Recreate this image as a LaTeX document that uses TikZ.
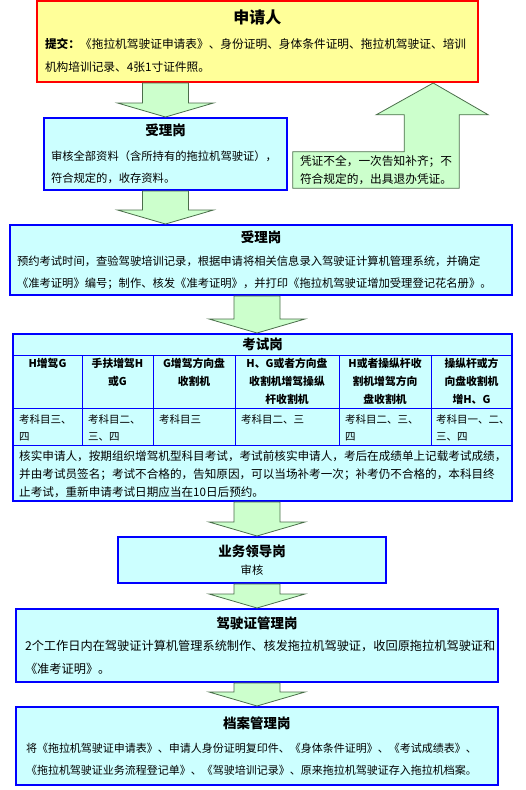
\documentclass[tikz,border=0pt]{standalone}
\usepackage{fontspec}
\setmainfont{Noto Sans CJK SC}
\usepackage{tikz}
\usetikzlibrary{calc,positioning,backgrounds}
\setlength{\parindent}{0pt}
\definecolor{paleyellow}{HTML}{FFFF99}
\definecolor{palecyan}{HTML}{CCFFFF}
\definecolor{palegreen}{HTML}{CCFFCC}
\definecolor{arrowline}{HTML}{4A6E4A}
\tikzstyle{applybox} = [rectangle, draw=red, line width=2pt, fill=paleyellow, inner xsep=8pt, inner ysep=0pt, align=left]
\tikzstyle{postbox} = [rectangle, draw=blue, line width=2pt, fill=palecyan, inner xsep=7pt, inner ysep=0pt, align=left]
\tikzstyle{notetext} = [rectangle, inner xsep=7pt, inner ysep=0pt, align=left, font=\fontsize{11.7}{18}\selectfont]
\tikzstyle{arrowbody} = [draw=arrowline, line width=0.8pt, fill=palegreen]
\tikzstyle{gridline} = [draw=blue, line width=0.8pt]
\tikzstyle{headcell} = [anchor=north, align=center, inner sep=0pt, font=\fontsize{10.8}{18}\selectfont\bfseries]
\tikzstyle{datacell} = [anchor=north west, align=left, inner sep=0pt, font=\fontsize{10.5}{17}\selectfont]
\newcommand{\boxtitle}[2][13.5]{\null\hfill{\fontsize{#1}{#1}\selectfont\bfseries #2}\hfill\null}
\newcommand{\blockarrow}[2]{%
  \draw[arrowbody] let \p1=(#1), \p2=(#2) in
    (\x1-23pt,\y1) -- (\x1-23pt,\y2+14pt) -- (\x1-48pt,\y2+14pt) -- (\x1,\y2)
    -- (\x1+48pt,\y2+14pt) -- (\x1+23pt,\y2+14pt) -- (\x1+23pt,\y1) -- cycle;}
\begin{document}
\begin{tikzpicture}[x=1pt, y=-1pt]
\useasboundingbox (0,0) rectangle (526,790);

\node (applicant) [applybox, minimum width=441pt, minimum height=81pt, text width=425pt, font=\fontsize{11.7}{23}\selectfont] at (257.5,41.5)
  {\boxtitle[16]{申请人}\\[2pt]
   \textbf{提交：}《拖拉机驾驶证申请表》、身份证明、身体条件证明、拖拉机驾驶证、培训\\
   机构培训记录、4张1寸证件照。};
\node (recv1) [postbox, minimum width=243pt, minimum height=72pt, text width=229pt, font=\fontsize{11.3}{22.5}\selectfont] at (165.5,154)
  {\boxtitle{受理岗}\\[2pt]
   审核全部资料（含所持有的拖拉机驾驶证），\\
   符合规定的，收存资料。};
\node (back) [notetext, minimum width=166pt, minimum height=36pt, text width=152pt] at (376,170)
  {凭证不全，一次告知补齐；不\\
   符合规定的，出具退办凭证。};
\coordinate (backtip) at ($(back.north east |- applicant.south)+(-26,0)$);
\node (recv2) [postbox, minimum width=502pt, minimum height=70pt, text width=488pt, font=\fontsize{11.3}{22}\selectfont] at (261,260)
  {\boxtitle{受理岗}\\[1pt]
   预约考试时间，查验驾驶培训记录，根据申请将相关信息录入驾驶证计算机管理系统，并确定\\
   《准考证明》编号；制作、核发《准考证明》，并打印《拖拉机驾驶证增加受理登记花名册》。};

% exam table
\node (exam) [postbox, minimum width=499pt, minimum height=167pt] at (262.5,417.5) {};
\foreach \y in {355,408,445}
  \draw[gridline] (exam.west |- 0,\y) -- (exam.east |- 0,\y);
\foreach \x in {82,153,235,339,431}
  \draw[gridline] (\x,355) -- (\x,445);
\node (examtitle) [font=\fontsize{13.5}{13.5}\selectfont\bfseries] at (262.5,344.5) {考试岗};
\foreach \x/\t [count=\i] in {47.5/{H增驾G}, 117.5/{手扶增驾H\\或G}, 194/{G增驾方向盘\\收割机},
    287/{H、G或者方向盘\\收割机增驾操纵\\杆收割机}, 385/{H或者操纵杆收\\割机增驾方向\\盘收割机},
    471.5/{操纵杆或方\\向盘收割机\\增H、G}}
  \node (head\i) [headcell] at (\x,358) {\t};
\foreach \x/\t [count=\i] in {19/{考科目三、\\四}, 88/{考科目二、\\三、四}, 159/{考科目三},
    241/{考科目二、三}, 345/{考科目二、三、\\四}, 436/{考科目一、二、\\三、四}}
  \node (data\i) [datacell] at (\x,414) {\t};
\node (examnote) [anchor=north west, align=left, inner sep=0pt, font=\fontsize{11.6}{18}\selectfont] at (19,450)
  {核实申请人，按期组织增驾机型科目考试，考试前核实申请人，考后在成绩单上记载考试成绩，\\
   并由考试员签名；考试不合格的，告知原因，可以当场补考一次；补考仍不合格的，本科目终\\
   止考试，重新申请考试日期应当在10日后预约。};

\node (leader) [postbox, minimum width=268pt, minimum height=46pt, align=center, font=\fontsize{11.3}{18}\selectfont] at (252,560)
  {{\fontsize{13.5}{13.5}\selectfont\bfseries 业务领导岗}\\审核};
\node (license) [postbox, minimum width=482pt, minimum height=73pt, inner xsep=9pt, text width=464pt, font=\fontsize{12.2}{22.5}\selectfont] at (257,645.5)
  {\boxtitle{驾驶证管理岗}\\
   2个工作日内在驾驶证计算机管理系统制作、核发拖拉机驾驶证，收回原拖拉机驾驶证和\\
   《准考证明》。};
\node (archive) [postbox, below=23pt of license, minimum width=482pt, minimum height=78pt, inner xsep=10pt, text width=462pt, font=\fontsize{11}{22}\selectfont]
  {\boxtitle{档案管理岗}\\[2pt]
   将《拖拉机驾驶证申请表》、申请人身份证明复印件、《身体条件证明》、《考试成绩表》、\\
   《拖拉机驾驶证业务流程登记单》、《驾驶培训记录》、原来拖拉机驾驶证存入拖拉机档案。};

\begin{scope}[on background layer]
\draw[arrowbody] (back.south west) -- (back.north west) -- ($(back.north east)+(-55,0)$)
  -- ($(back.north east)+(-55,-37)$) -- ($(back.north east)+(-83,-37)$) -- (backtip)
  -- ($(back.north east)+(29,-37)$) -- ($(back.north east)+(0,-37)$) -- (back.south east) -- cycle;
\end{scope}

\blockarrow{recv1.north |- applicant.south}{recv1.north}
\blockarrow{recv1.south}{recv1.south |- recv2.north}
\blockarrow{license.north |- recv2.south}{license.north |- exam.north}
\blockarrow{license.north |- exam.south}{license.north |- leader.north}
\blockarrow{license.north |- leader.south}{license.north}
\blockarrow{license.south}{archive.north}

\end{tikzpicture}
\end{document}
